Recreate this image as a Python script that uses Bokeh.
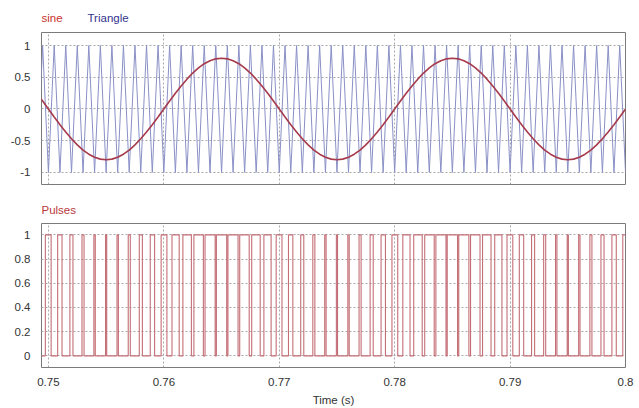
from bokeh.plotting import figure
from bokeh.models import Range1d, FixedTicker
from bokeh.layouts import column
from bokeh.core.properties import value
from bokeh.embed import file_html
from bokeh.resources import INLINE

# ---------------- data ----------------
t_start = 0.749
t_step = 0.0005  # sample spacing (triangle vertices every half carrier period)

# sine reference (amplitude 0.8, 50 Hz) sampled every 0.5 ms from 0.749 s to 0.800 s
sine_values = [
    0.247, 0.125, 0.0,
    -0.125, -0.247, -0.363, -0.470, -0.566, -0.647, -0.713, -0.761, -0.790, -0.800,
    -0.790, -0.761, -0.713, -0.647, -0.566, -0.470, -0.363, -0.247, -0.125, 0.0,
    0.125, 0.247, 0.363, 0.470, 0.566, 0.647, 0.713, 0.761, 0.790, 0.800,
    0.790, 0.761, 0.713, 0.647, 0.566, 0.470, 0.363, 0.247, 0.125, 0.0,
    -0.125, -0.247, -0.363, -0.470, -0.566, -0.647, -0.713, -0.761, -0.790, -0.800,
    -0.790, -0.761, -0.713, -0.647, -0.566, -0.470, -0.363, -0.247, -0.125, 0.0,
    0.125, 0.247, 0.363, 0.470, 0.566, 0.647, 0.713, 0.761, 0.790, 0.800,
    0.790, 0.761, 0.713, 0.647, 0.566, 0.470, 0.363, 0.247, 0.125, 0.0,
    -0.125, -0.247, -0.363, -0.470, -0.566, -0.647, -0.713, -0.761, -0.790, -0.800,
    -0.790, -0.761, -0.713, -0.647, -0.566, -0.470, -0.363, -0.247, -0.125, 0.0,
]
# triangle carrier (1 kHz, +/-1): troughs on whole milliseconds, peaks in between
triangle_values = [-1, 1] * 51 + [-1]

sample_times = [round(t_start + i * t_step, 4) for i in range(len(sine_values))]

x_ticks = [0.75, 0.76, 0.77, 0.78, 0.79, 0.8]
x_tick_labels = ["0.75", "0.76", "0.77", "0.78", "0.79", "0.8"]
top_ticks = [-1.0, -0.5, 0.0, 0.5, 1.0]
top_tick_labels = ["-1", "-0.5", "0", "0.5", "1"]
bottom_ticks = [0.0, 0.2, 0.4, 0.6, 0.8, 1.0]
bottom_tick_labels = ["0", "0.2", "0.4", "0.6", "0.8", "1"]

top_legend = ["sine", "Triangle"]
bottom_legend = ["Pulses"]

# PWM pulses: 1 where sine > triangle (edges found on each linear carrier segment)
pulse_x, pulse_y = [], []
diff = [s - c for s, c in zip(sine_values, triangle_values)]
state = 1 if diff[0] > 0 else 0
pulse_x.append(sample_times[0]); pulse_y.append(state)
for i in range(len(diff) - 1):
    d0, d1 = diff[i], diff[i + 1]
    if (d0 > 0) != (d1 > 0):
        tc = sample_times[i] + (sample_times[i + 1] - sample_times[i]) * d0 / (d0 - d1)
        pulse_x.append(tc); pulse_y.append(state)
        state = 1 - state
        pulse_x.append(tc); pulse_y.append(state)
pulse_x.append(sample_times[-1]); pulse_y.append(state)

# ---------------- styling ----------------
FONT = "Liberation Sans"
FS = "11.5px"
TICK_COLOR = "#333333"
GRID_COLOR = "#a8a8a8"
FRAME_COLOR = "#7a7a7a"
SINE_COLOR = "#a63a4a"
TRI_COLOR = "#8a90c6"
PULSE_COLOR = "#c46e76"
W = 639
LEFT, RIGHT = 41, 14


def style(p, yticks, ylabels):
    p.outline_line_color = FRAME_COLOR
    p.outline_line_width = 1
    p.background_fill_color = "white"
    p.border_fill_color = "white"
    for g in (p.xgrid, p.ygrid):
        g.grid_line_color = GRID_COLOR
        g.grid_line_dash = "2 2"
        g.grid_line_width = 1
    p.xgrid.ticker = FixedTicker(ticks=x_ticks)
    p.ygrid.ticker = FixedTicker(ticks=yticks)
    for ax in p.axis:
        ax.axis_line_color = None
        ax.major_tick_line_color = None
        ax.minor_tick_line_color = None
        ax.major_tick_out = 0
        ax.major_tick_in = 0
        ax.minor_tick_out = 0
        ax.minor_tick_in = 0
        ax.major_label_text_font = FONT
        ax.major_label_text_font_size = FS
        ax.major_label_text_color = TICK_COLOR
    p.yaxis.ticker = FixedTicker(ticks=yticks)
    p.yaxis.major_label_overrides = dict(zip(yticks, ylabels))
    p.yaxis.major_label_standoff = 11
    p.xaxis.ticker = FixedTicker(ticks=x_ticks)
    p.xaxis.major_label_overrides = dict(zip(x_ticks, x_tick_labels))


def header(height, xs, y, texts, colors):
    # header strip whose x coordinates are page pixels (frame spans LEFT .. W-RIGHT)
    h = figure(width=W, height=height, output_backend="svg", toolbar_location=None,
               x_range=Range1d(LEFT, W - RIGHT), y_range=Range1d(0, height),
               min_border_left=LEFT, min_border_right=RIGHT, min_border_top=0, min_border_bottom=0)
    h.axis.visible = False
    h.grid.visible = False
    h.outline_line_color = None
    h.background_fill_color = "white"
    h.border_fill_color = "white"
    h.text(x=xs, y=[y] * len(xs), text=texts, text_color=colors,
           text_font=value(FONT), text_font_size=value(FS),
           text_align="left", text_baseline="alphabetic")
    return h


# header with the top legend texts
h0 = header(28, [41, 87], 11, top_legend, ["#c8302c", "#34348e"])

# top panel: sine and triangle
p1 = figure(width=W, height=160, output_backend="svg", toolbar_location=None,
            x_range=Range1d(0.7494, 0.8), y_range=Range1d(-1.19, 1.205),
            min_border_left=LEFT, min_border_right=RIGHT, min_border_top=4, min_border_bottom=4)
style(p1, top_ticks, top_tick_labels)
p1.xaxis.visible = False
p1.line(sample_times, triangle_values, line_color=TRI_COLOR, line_width=1)
p1.line(sample_times, sine_values, line_color=SINE_COLOR, line_width=1.6)

# header with the bottom legend text
h1 = header(31, [41], 10, bottom_legend, ["#b83a3a"])

# bottom panel: pulses
p2 = figure(width=W, height=189, output_backend="svg", toolbar_location=None,
            x_range=p1.x_range, y_range=Range1d(-0.096, 1.094),
            min_border_left=LEFT, min_border_right=RIGHT, min_border_top=4, min_border_bottom=41)
style(p2, bottom_ticks, bottom_tick_labels)
p2.xaxis.major_label_standoff = 10
p2.xaxis.axis_label = "Time (s)"
p2.xaxis.axis_label_text_font = FONT
p2.xaxis.axis_label_text_font_size = FS
p2.xaxis.axis_label_text_font_style = "normal"
p2.xaxis.axis_label_text_color = TICK_COLOR
p2.xaxis.axis_label_standoff = 5
p2.line(pulse_x, pulse_y, line_color=PULSE_COLOR, line_width=1.1)

layout = column(h0, p1, h1, p2, spacing=0)
open("out.html", "w").write(file_html(layout, INLINE))
